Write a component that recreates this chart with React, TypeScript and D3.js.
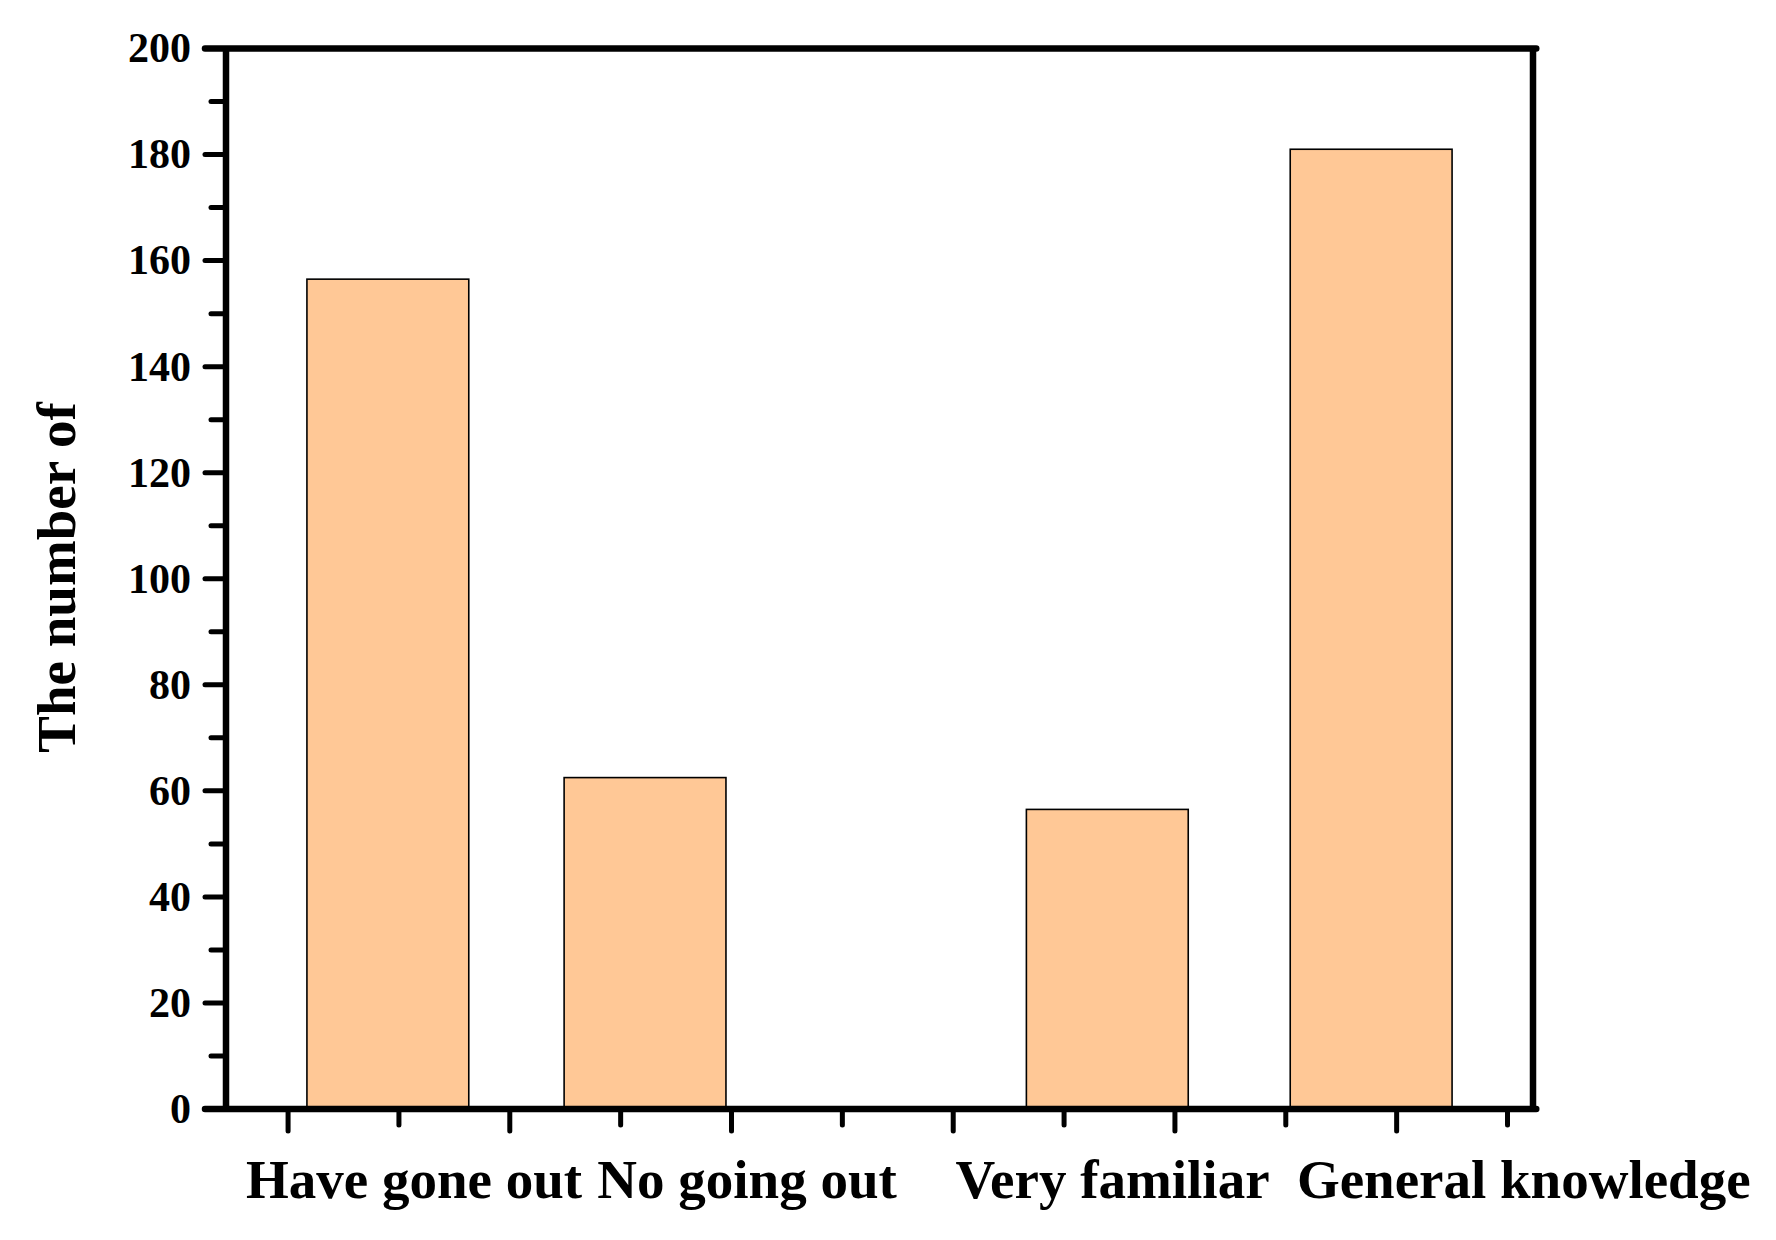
import React from "react";
import * as d3 from "d3";

const categories = ["Have gone out", "No going out", "Very familiar", "General knowledge"];
const values = [156.5, 62.5, 56.5, 181];
// bar centre positions in x-axis units
const barPos = [0.9, 3.22, 7.39, 9.77];
// label start positions in x-axis units
const labelPos = [-0.38, 2.79, 6.02, 9.1];
const yTicks = [0, 20, 40, 60, 80, 100, 120, 140, 160, 180, 200];
const yMinorTicks = [10, 30, 50, 70, 90, 110, 130, 150, 170, 190];
const xTicks = [0, 1, 2, 3, 4, 5, 6, 7, 8, 9, 10, 11];
const yTitle = "The number of";

const W = 1776;
const H = 1240;
const left = 226;
const right = 1533;
const top = 48.5;
const bottom = 1109;
const barWidthUnits = 1.46;
const FONT = "'Liberation Serif', 'Times New Roman', serif";

export default function App() {
  const x = d3.scaleLinear().domain([-0.56, 11.23]).range([left, right]);
  const y = d3.scaleLinear().domain([0, 200]).range([bottom, top]);
  const bw = x(barWidthUnits) - x(0);
  const lw = 6.5;

  return (
    <svg
      width={W}
      height={H}
      style={{ position: "absolute", left: 0, top: 0, display: "block", background: "#fff" }}
    >
      {/* bars */}
      {values.map((v, i) => (
        <rect
          key={categories[i]}
          x={x(barPos[i]) - bw / 2}
          y={y(v)}
          width={bw}
          height={y(0) - y(v)}
          fill="#FFC896"
          stroke="#000"
          strokeWidth={1.6}
        />
      ))}

      {/* frame */}
      <line x1={205} x2={right + lw / 2} y1={top} y2={top} stroke="#000" strokeWidth={lw} strokeLinecap="round" />
      <line x1={205} x2={right + lw / 2} y1={bottom} y2={bottom} stroke="#000" strokeWidth={lw} strokeLinecap="round" />
      <line x1={left} x2={left} y1={top} y2={bottom} stroke="#000" strokeWidth={lw} />
      <line x1={right} x2={right} y1={top} y2={bottom} stroke="#000" strokeWidth={lw} />

      {/* y ticks */}
      {yTicks.map((t) => (
        <g key={"y" + t}>
          <line x1={205} x2={left} y1={y(t)} y2={y(t)} stroke="#000" strokeWidth={5} strokeLinecap="round" />
          <text
            x={191}
            y={y(t)}
            dy="0.33em"
            textAnchor="end"
            fontFamily={FONT}
            fontWeight="bold"
            fontSize={42}
            fill="#000"
          >
            {t}
          </text>
        </g>
      ))}
      {yMinorTicks.map((t) => (
        <line key={"ym" + t} x1={211} x2={left} y1={y(t)} y2={y(t)} stroke="#000" strokeWidth={5} strokeLinecap="round" />
      ))}

      {/* x ticks */}
      {xTicks.map((t) => (
        <line
          key={"x" + t}
          x1={x(t)}
          x2={x(t)}
          y1={bottom}
          y2={t % 2 === 0 ? 1131 : 1125}
          stroke="#000"
          strokeWidth={5}
          strokeLinecap="round"
        />
      ))}

      {/* x labels */}
      {categories.map((c, i) => (
        <text
          key={"l" + c}
          x={x(labelPos[i])}
          y={1198}
          textAnchor="start"
          fontFamily={FONT}
          fontWeight="bold"
          fontSize={55}
          fill="#000"
        >
          {c}
        </text>
      ))}

      {/* y title */}
      <text
        transform={`translate(75, 577.5) rotate(-90)`}
        textAnchor="middle"
        fontFamily={FONT}
        fontWeight="bold"
        fontSize={55}
        fill="#000"
      >
        {yTitle}
      </text>
    </svg>
  );
}
